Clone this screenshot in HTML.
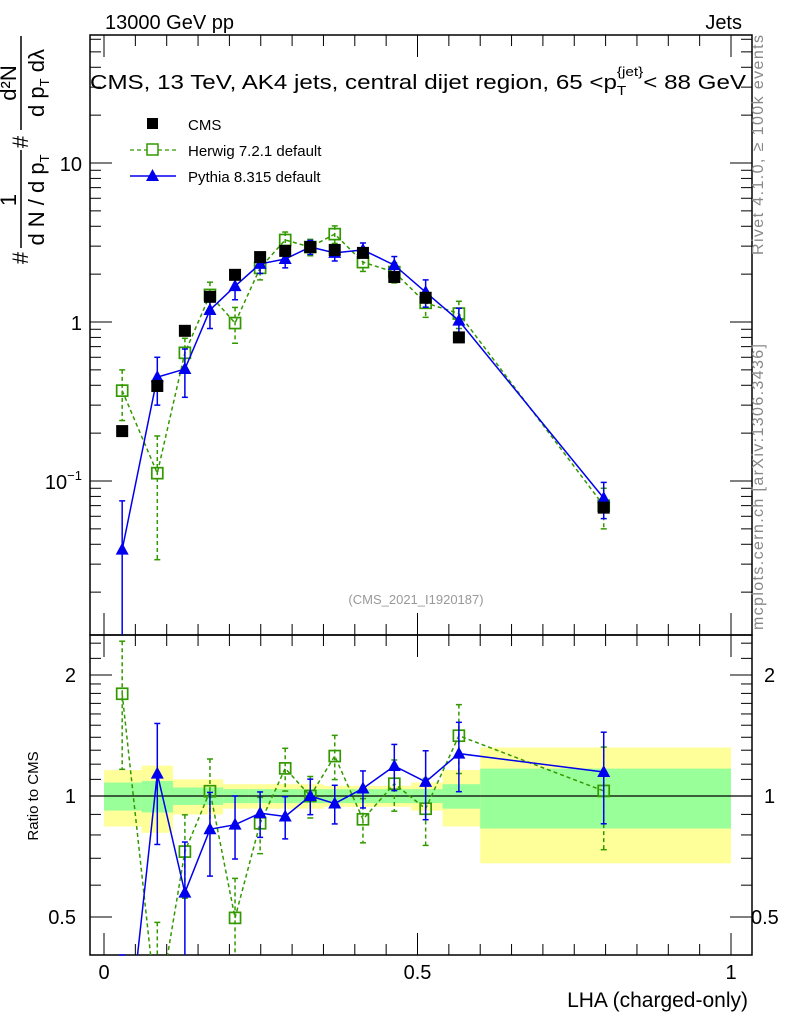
<!DOCTYPE html>
<html><head><meta charset="utf-8"><style>
html,body{margin:0;background:#fff;overflow:hidden;width:786px;height:1024px}
svg{font-family:"Liberation Sans",sans-serif;display:block}
</style></head><body>
<svg id="c" width="786" height="1024" viewBox="0 0 786 1024" xmlns="http://www.w3.org/2000/svg">
<rect width="786" height="1024" fill="#fff"/>
<g id="bands"></g>
<g id="axes"></g>
<g id="marks"></g>
<text x="105" y="29" font-size="20">13000 GeV pp</text>
<text x="742" y="29" font-size="20" text-anchor="end">Jets</text>
<text x="90" y="89" font-size="20.5" textLength="656" lengthAdjust="spacingAndGlyphs">CMS, 13 TeV, AK4 jets, central dijet region, 65 &lt;p<tspan font-size="13" dy="6">T</tspan><tspan font-size="13" dy="-19" dx="-8">{jet}</tspan><tspan dy="13">&lt; 88 GeV</tspan></text>
<text transform="translate(763,255) rotate(-90)" font-size="16" textLength="220" fill="#888">Rivet 4.1.0, ≥ 100k events</text>
<text transform="translate(763,630) rotate(-90)" font-size="16" textLength="286" fill="#888">mcplots.cern.ch [arXiv:1306.3436]</text>
<text x="416" y="604" font-size="13" fill="#999" text-anchor="middle">(CMS_2021_I1920187)</text>
<g font-size="22">
<line x1="21" y1="36" x2="21" y2="130" stroke="#000" stroke-width="1.5"/>
<text transform="translate(16,83) rotate(-90)" text-anchor="middle">d²N</text>
<text transform="translate(44,83) rotate(-90)" text-anchor="middle">d p<tspan font-size="13" dy="5">T</tspan><tspan dy="-5"> dλ</tspan></text>
<text transform="translate(28,142) rotate(-90)" text-anchor="middle">#</text>
<line x1="21" y1="150" x2="21" y2="248" stroke="#000" stroke-width="1.5"/>
<text transform="translate(16,200) rotate(-90)" text-anchor="middle">1</text>
<text transform="translate(44,200) rotate(-90)" text-anchor="middle">d N / d p<tspan font-size="13" dy="5">T</tspan></text>
<text transform="translate(28,258) rotate(-90)" text-anchor="middle">#</text>
</g>
<text transform="translate(38,796) rotate(-90)" font-size="15" text-anchor="middle">Ratio to CMS</text>
<text x="748" y="1007" font-size="21" text-anchor="end">LHA (charged-only)</text>
<g font-size="15">
<rect x="147" y="118" width="11" height="11" fill="#000"/>
<text x="188" y="130">CMS</text>
<line x1="130" y1="150" x2="176" y2="150" stroke="#339900" stroke-width="1.3" stroke-dasharray="4,3"/>
<rect x="147" y="144" width="11" height="11" fill="#fff" stroke="#339900" stroke-width="1.5"/>
<text x="188" y="156">Herwig 7.2.1 default</text>
<line x1="130" y1="176" x2="176" y2="176" stroke="#0000ee" stroke-width="1.5"/>
<polygon points="152.5,169 146,181 159,181" fill="#0000ee"/>
<text x="188" y="182">Pythia 8.315 default</text>
</g>
</svg>
<script>
const lha = [0.029,0.085,0.129,0.169,0.209,0.249,0.289,0.329,0.368,0.413,0.463,0.513,0.566,0.797];
const binEdges = [0,0.06,0.11,0.15,0.19,0.23,0.27,0.31,0.35,0.39,0.44,0.49,0.54,0.6,1.0];
const cmsVals = [0.206,0.396,0.88,1.44,1.98,2.56,2.8,2.96,2.84,2.72,1.92,1.42,0.80,0.068];
const cmsStatRel = [0.08,0.09,0.05,0.05,0.04,0.04,0.04,0.04,0.04,0.04,0.04,0.04,0.07,0.17];
const cmsTotRel = [0.16,0.19,0.10,0.10,0.07,0.07,0.07,0.07,0.06,0.06,0.06,0.08,0.16,0.32];
const herwigVals = [0.37,0.112,0.64,1.48,0.985,2.19,3.28,2.96,3.57,2.38,2.06,1.32,1.13,0.070];
const herwigErr = [0.13,0.08,0.15,0.3,0.25,0.35,0.4,0.35,0.45,0.3,0.3,0.25,0.22,0.02];
const pythiaVals = [0.037,0.45,0.506,1.19,1.68,2.32,2.49,2.96,2.72,2.84,2.28,1.54,1.02,0.078];
const pythiaErr = [0.038,0.15,0.17,0.28,0.3,0.3,0.3,0.3,0.3,0.3,0.3,0.3,0.2,0.02];
const mainYTicks = ["10","1","10^-1"];
const ratioYTicks = [2,1,0.5];
const xTicks = [0,0.5,1];

const NS="http://www.w3.org/2000/svg";
const L=90,R=752,T=35,MB=635,RB=955;
const X=v=>104+627*v;
const Ym=v=>322-159*Math.log10(v);
const Yr=v=>796-121*Math.log2(v);
function el(tag,attrs,parent){const e=document.createElementNS(NS,tag);for(const k in attrs)e.setAttribute(k,attrs[k]);parent.appendChild(e);return e;}
const axes=document.getElementById('axes'),marks=document.getElementById('marks'),bands=document.getElementById('bands');
const clampM=y=>Math.max(T,Math.min(MB,y)), clampR=y=>Math.max(MB,Math.min(RB,y));

for(let i=0;i<lha.length;i++){
  const x1=X(binEdges[i]),x2=X(binEdges[i+1]);
  let r=el('rect',{x:x1,y:Yr(1+cmsTotRel[i]),width:x2-x1,height:Yr(1-cmsTotRel[i])-Yr(1+cmsTotRel[i]),fill:'#ffff99'},bands);
  
  
  let g=el('rect',{x:x1,y:Yr(1+cmsStatRel[i]),width:x2-x1,height:Yr(1-cmsStatRel[i])-Yr(1+cmsStatRel[i]),fill:'#99ff99'},bands);
  
  
}
el('line',{x1:L,y1:796,x2:R,y2:796,stroke:'#000','stroke-width':1.3},axes);

el('rect',{x:L,y:T,width:R-L,height:MB-T,fill:'none',stroke:'#000','stroke-width':1.5},axes);
el('rect',{x:L,y:MB,width:R-L,height:RB-MB,fill:'none',stroke:'#000','stroke-width':1.5},axes);
for(let d=-2;d<=1;d++){for(let m=1;m<10;m++){const v=m*Math.pow(10,d);const y=Ym(v);if(y<T||y>MB)continue;const len=m==1?22:11;
 el('line',{x1:L,y1:y,x2:L+len,y2:y,stroke:'#000'},axes);el('line',{x1:R,y1:y,x2:R-len,y2:y,stroke:'#000'},axes);}}
mainYTicks.forEach((t,i)=>{const y=Ym(Math.pow(10,1-i));
 const tx=el('text',{x:82,y:y+8,'font-size':20,'text-anchor':'end'},axes);
 if(t.includes('^')){tx.textContent='10';const s=el('tspan',{dy:-9,'font-size':13},tx);s.textContent='−1';}else tx.textContent=t;
 
 });
[0.5,0.6,0.7,0.8,0.9,1,1.1,1.2,1.3,1.4,1.5,1.6,1.7,1.8,1.9,2,2.2,2.4].forEach(v=>{const y=Yr(v);if(y<MB||y>RB)return;const len=ratioYTicks.includes(v)?22:11;
 el('line',{x1:L,y1:y,x2:L+len,y2:y,stroke:'#000'},axes);el('line',{x1:R,y1:y,x2:R-len,y2:y,stroke:'#000'},axes);});
ratioYTicks.forEach(v=>{const y=Yr(v);
 const a=el('text',{x:76,y:y+7,'font-size':20,'text-anchor':'end'},axes);a.textContent=v;
 
 
 const b=el('text',{x:v===0.5?751:764,y:y+7,'font-size':20},axes);b.textContent=v;
 
 });
for(let k=0;k<=20;k++){const v=k*0.05;const x=X(v);const len=k%10==0?22:11;
 el('line',{x1:x,y1:RB,x2:x,y2:RB-len,stroke:'#000'},axes);el('line',{x1:x,y1:MB,x2:x,y2:MB+len,stroke:'#000'},axes);
 el('line',{x1:x,y1:T,x2:x,y2:T+len,stroke:'#000'},axes);el('line',{x1:x,y1:MB,x2:x,y2:MB-len,stroke:'#000'},axes);}
xTicks.forEach(v=>{const t=el('text',{x:X(v),y:979,'font-size':20,'text-anchor':'middle'},axes);t.textContent=v;
 
 });

function series(vals,errs,color,dash,marker,name,isRatio){
  const Y=isRatio?Yr:Ym, cl=isRatio?clampR:clampM;
  const v=vals.map((d,i)=>isRatio?d/cmsVals[i]:d);
  const e=errs?errs.map((d,i)=>isRatio?d/cmsVals[i]:d):null;
  const pts=v.map((d,i)=>X(lha[i])+','+Y(d)).join(' ');
  if(color!=='#000'){
    const cp=el('clipPath',{id:'cp'+name},marks);el('rect',{x:L,y:isRatio?MB:T,width:R-L,height:isRatio?RB-MB:MB-T},cp);
    const pl=el('polyline',{points:pts,fill:'none',stroke:color,'stroke-width':1.5,'stroke-dasharray':dash,'clip-path':'url(#cp'+name+')'},marks);
    
    
  }
  v.forEach((d,i)=>{const x=X(lha[i]),y=Y(d);
    if(e){const y1=cl(Y(d+e[i])),y2=cl(d-e[i]>0?Y(d-e[i]):99999);
      el('line',{x1:x,y1:y1,x2:x,y2:y2,stroke:color,'stroke-width':1.5,'stroke-dasharray':dash},marks);
      el('line',{x1:x-3,y1:y1,x2:x+3,y2:y1,stroke:color,'stroke-width':1.5},marks);
      if(y2<(isRatio?RB:MB))el('line',{x1:x-3,y1:y2,x2:x+3,y2:y2,stroke:color,'stroke-width':1.5},marks);}
    if(y<(isRatio?MB:T)||y>(isRatio?RB:MB))return;
    let m;
    if(marker==='fill')m=el('rect',{x:x-6,y:y-6,width:12,height:12,fill:'#000'},marks);
    else if(marker==='open')m=el('rect',{x:x-5.5,y:y-5.5,width:11,height:11,fill:'none',stroke:color,'stroke-width':1.7},marks);
    else m=el('polygon',{points:`${x},${y-7} ${x-6.5},${y+5} ${x+6.5},${y+5}`,fill:color},marks);
    
    });
}
series(herwigVals,herwigErr,'#339900','4,3','open','herwig',false);
series(pythiaVals,pythiaErr,'#0000ee','','tri','pythia',false);
series(cmsVals,null,'#000','','fill','cms',false);
series(herwigVals,herwigErr,'#339900','4,3','open','herwig-ratio',true);
series(pythiaVals,pythiaErr,'#0000ee','','tri','pythia-ratio',true);
</script>
</body></html>
